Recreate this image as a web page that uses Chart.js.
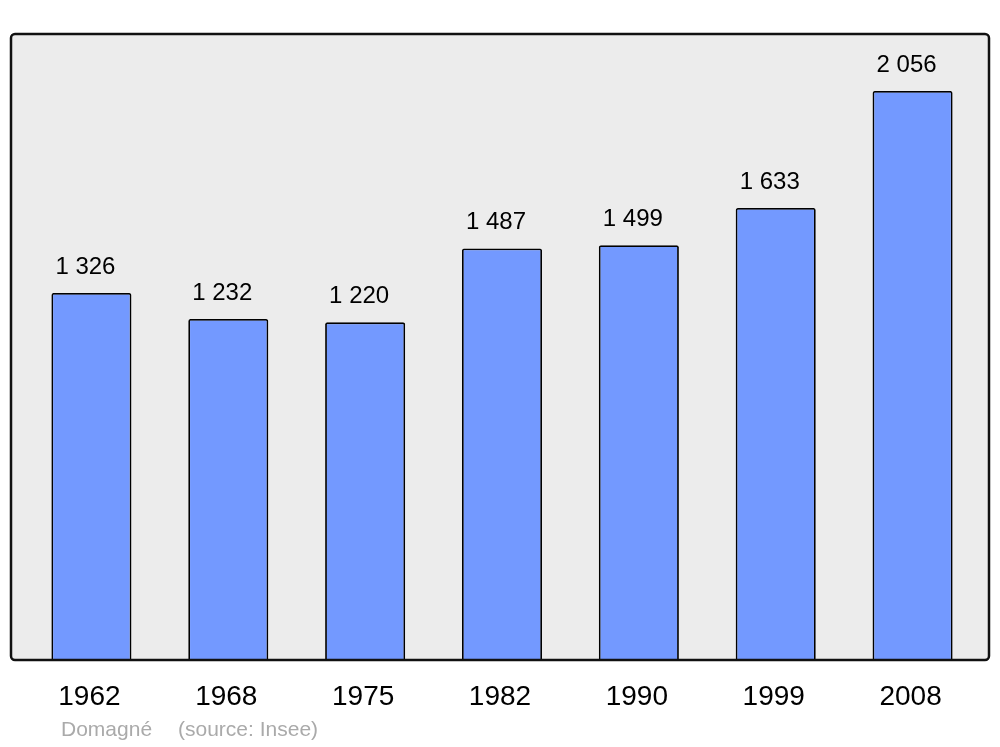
<!DOCTYPE html>
<html>
<head>
<meta charset="utf-8">
<script src="https://cdn.jsdelivr.net/npm/chart.js@4/dist/chart.umd.min.js"></script>
<style>
  html, body { margin: 0; padding: 0; background: #fff; }
  #wrap { width: 1000px; height: 747px; position: relative; }
</style>
</head>
<body>
<div id="wrap"><canvas id="myChart" width="1000" height="747"></canvas></div>
<script>
var years = ['1962', '1968', '1975', '1982', '1990', '1999', '2008'];
var population = [1326, 1232, 1220, 1487, 1499, 1633, 2056];
var footerName = 'Domagné';
var footerSource = '(source: Insee)';

function fmt(n) {
  return n.toString().replace(/\B(?=(\d{3})+(?!\d))/g, ' ');
}

// grey box behind, black frame over the bars
var framePlugin = {
  id: 'frame',
  beforeDatasetsDraw: function(chart) {
    var ctx = chart.ctx;
    ctx.save();
    ctx.beginPath();
    ctx.roundRect(11, 34, 978, 626, 4);
    ctx.fillStyle = '#ececec';
    ctx.fill();
    ctx.restore();
  },
  afterDatasetsDraw: function(chart) {
    var ctx = chart.ctx;
    var meta = chart.getDatasetMeta(0);
    ctx.save();
    ctx.font = '24px "Liberation Sans", Arial, sans-serif';
    ctx.fillStyle = '#000';
    ctx.textAlign = 'center';
    ctx.textBaseline = 'middle';
    meta.data.forEach(function(bar, i) {
      ctx.fillText(fmt(population[i]), bar.x - 6, bar.y - 26);
    });
    ctx.beginPath();
    ctx.roundRect(11, 34, 978, 626, 4);
    ctx.lineWidth = 2.5;
    ctx.strokeStyle = '#111';
    ctx.stroke();

    ctx.font = '21px "Liberation Sans", Arial, sans-serif';
    ctx.fillStyle = '#aaaaaa';
    ctx.textAlign = 'left';
    ctx.fillText(footerName, 61, 730);
    ctx.fillText(footerSource, 178, 730);
    ctx.restore();
  }
};

var config = {
  type: 'bar',
  data: {
    labels: years,
    datasets: [{
      data: population,
      backgroundColor: '#7399ff',
      borderColor: '#000',
      borderWidth: 1.8,
      borderRadius: 2,
      categoryPercentage: 1,
      barPercentage: 0.585
    }]
  },
  options: {
    responsive: false,
    animation: false,
    layout: { padding: { left: 23, right: 19, top: 34, bottom: 0 } },
    plugins: { legend: { display: false }, tooltip: { enabled: false } },
    scales: {
      y: { display: false, min: 0, max: 2262 },
      x: {
        grid: { display: false },
        border: { display: false },
        ticks: {
          color: '#000',
          padding: 12,
          labelOffset: -2,
          font: { family: '"Liberation Sans", Arial, sans-serif', size: 28 }
        },
        afterFit: function(scale) { scale.height = 87; }
      }
    }
  },
  plugins: [framePlugin]
};

new Chart(document.getElementById('myChart'), config);
</script>
</body>
</html>
